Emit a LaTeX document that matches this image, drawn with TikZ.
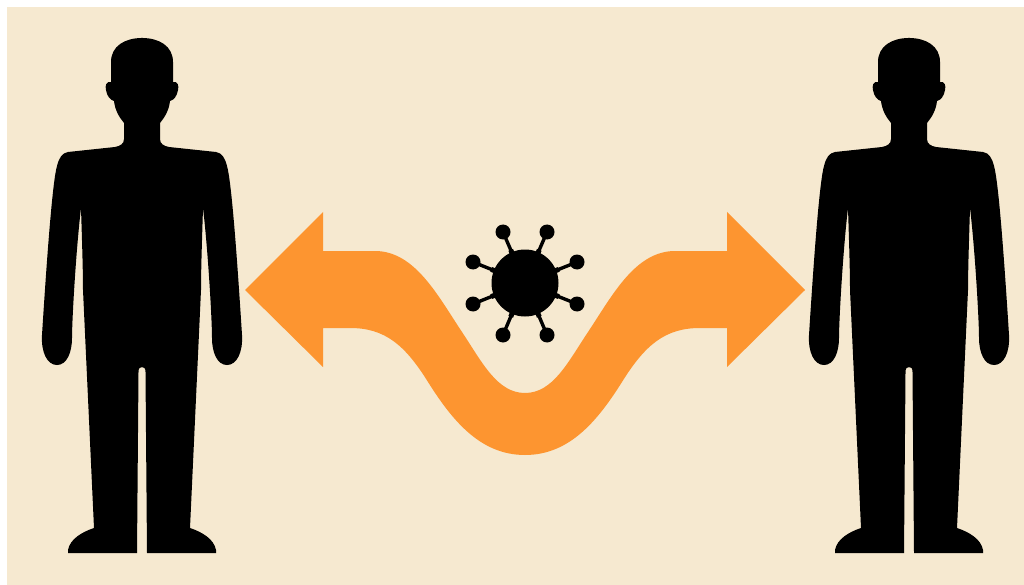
\documentclass[tikz,border=0pt]{standalone}
\usepackage{xcolor}
\usetikzlibrary{calc}
\definecolor{sandbg}{RGB}{246,233,208}
\definecolor{arroworange}{RGB}{253,149,48}
\tikzset{
  halfbody/.pic={
    \fill[black] (1,38) -- (0,38) .. controls (-17,38) and (-31,46) .. (-31,62) -- (-31,82)
      .. controls (-36,81) and (-37,86) .. (-36,90) .. controls (-35,96) and (-32,100) .. (-28,101)
      .. controls (-27,110) and (-23,117) .. (-18,123) -- (-18,139)
      .. controls (-18,144) and (-22,146) .. (-27,147) -- (-74,152)
      .. controls (-80,153) and (-83,158) .. (-85,166)
      .. controls (-89,180) and (-94,240) .. (-100,335)
      .. controls (-101,352) and (-95,365) .. (-85,365)
      .. controls (-75,365) and (-70,352) .. (-70,338)
      .. controls (-70,320) and (-66,250) .. (-61,208)
      .. controls (-60,240) and (-59,270) .. (-59,290) -- (-48,528)
      .. controls (-60,532) and (-72,539) .. (-74,550) -- (-74,553) -- (-5,553) -- (-3.5,372)
      .. controls (-3.5,368) and (-2,367) .. (0,367) -- (1,367) -- cycle;
  },
}
\begin{document}
\begin{tikzpicture}[x=1pt,y=-1pt]
  % Page and background
  \useasboundingbox (0,0) rectangle (1024,585);
  \fill[white] (0,0) rectangle (1024,585);
  \fill[sandbg] (7,7) rectangle (1024,585);

  % People
  \foreach \px in {142,909} {
    \pic at (\px,0) {halfbody};
    \pic[xscale=-1] at (\px,0) {halfbody};
  }

  % Double arrow
  \fill[arroworange] (245,290) -- (323,212) -- (323,251) -- (375,251)
    .. controls (415,251) and (438,296) .. (462,332)
    .. controls (482,362) and (497,393) .. (525,393)
    .. controls (553,393) and (568,362) .. (588,332)
    .. controls (612,296) and (635,251) .. (675,251)
    -- (727,251) -- (727,212) -- (805,290) -- (727,367) -- (727,328) -- (700,328)
    .. controls (665,328) and (645,345) .. (622,382)
    .. controls (598,420) and (570,455) .. (525,455)
    .. controls (480,455) and (452,420) .. (428,382)
    .. controls (405,345) and (385,328) .. (350,328)
    -- (323,328) -- (323,367) -- cycle;

  % Virus
  \fill[black] (525,283) circle (33.5);
  \foreach \kx/\ky in {503/232,547/232,473/262,577/262,473/304,577/304,503/335,547/335} {
    \draw[black, line width=3.4pt] (525,283) -- (\kx,\ky);
    \draw[black, line width=5pt] (525,283) -- ($(525,283)!0.65!(\kx,\ky)$);
    \fill[black] (\kx,\ky) circle (7.5);
  }
\end{tikzpicture}
\end{document}
